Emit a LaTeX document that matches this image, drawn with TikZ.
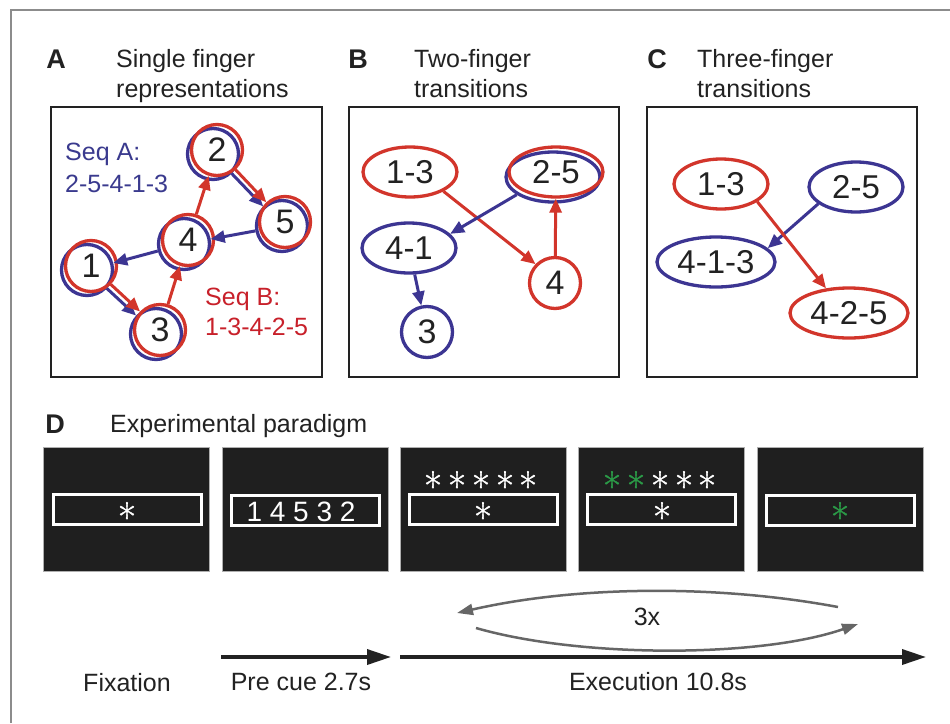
\documentclass[tikz,border=0pt]{standalone}
\usepackage{fontspec}
\setmainfont{Liberation Sans}
\newfontfamily\lmstar[FakeBold=1]{Latin Modern Roman}
\usetikzlibrary{arrows.meta,shapes.geometric}
\definecolor{rd}{HTML}{D2352B}
\definecolor{bl}{HTML}{3C3592}
\definecolor{rdtxt}{HTML}{C8202A}
\definecolor{bltxt}{HTML}{3A3A8E}
\definecolor{scr}{HTML}{1F1F1F}
\definecolor{grn}{HTML}{2B9A47}
\definecolor{txt}{HTML}{222222}
\definecolor{frm}{HTML}{8C8C8C}
\definecolor{arcg}{HTML}{666666}
\begin{document}
\begin{tikzpicture}[x=1pt,y=-1pt,
  every node/.style={text=txt},
  lbl/.style={font=\fontsize{25}{30}\selectfont, inner sep=0, anchor=base west},
  lblc/.style={font=\fontsize{25}{30}\selectfont, inner sep=0, anchor=base},
  hdr/.style={font=\bfseries\fontsize{27}{30}\selectfont, inner sep=0, anchor=base},
  panel/.style={draw=txt, line width=2pt},
  rc/.style={circle, draw=rd, line width=3.3pt, minimum size=51pt, inner sep=0, font=\fontsize{34}{34}\selectfont},
  bc/.style={circle, draw=bl, line width=3.3pt, minimum size=51pt, inner sep=0},
  re/.style={ellipse, draw=rd, line width=3.3pt, minimum width=94pt, minimum height=50pt, inner sep=0, font=\fontsize{33}{33}\selectfont},
  be/.style={ellipse, draw=bl, line width=3.3pt, minimum width=94pt, minimum height=50pt, inner sep=0, font=\fontsize{33}{33}\selectfont},
  ra/.style={draw=rd, line width=3pt, -{Triangle[length=14pt,width=12pt]}},
  ba/.style={draw=bl, line width=3pt, -{Triangle[length=14pt,width=12pt]}},
  screen/.style={fill=scr, draw=frm!70, line width=0.8pt, minimum width=166pt, minimum height=124pt, inner sep=0},
  slot/.style={draw=white, line width=3pt, minimum width=148pt, minimum height=30pt, inner sep=0},
  star/.style={font=\lmstar\fontsize{40}{40}\selectfont, inner sep=0, text=white,
    text height=30pt, text depth=-14pt},
  tl/.style={draw=txt, line width=3.5pt, -{Triangle[length=24pt,width=15pt]}},
  arcs/.style={draw=arcg, line width=2.5pt, -{Triangle[length=16pt,width=11pt]}}
]
\useasboundingbox (0,0) rectangle (950,723);
\fill[white] (0,0) rectangle (950,723);
\draw[frm, line width=1.5pt] (11,723) -- (11,10) -- (950,10);

% ---------- headers ----------
\node[hdr] (hA) at (56,68) {A};
\node[lbl] (tA1) at (116,67) {Single finger};
\node[lbl] (tA2) at (116,97) {representations};
\node[hdr] (hB) at (358,68) {B};
\node[lbl] (tB1) at (414,67) {Two-finger};
\node[lbl] (tB2) at (414,97) {transitions};
\node[hdr] (hC) at (657,68) {C};
\node[lbl] (tC1) at (697,67) {Three-finger};
\node[lbl] (tC2) at (697,97) {transitions};

% ---------- panel boxes ----------
\draw[panel] (51,107) rectangle (322,377);
\draw[panel] (349,107) rectangle (619,377);
\draw[panel] (647,107) rectangle (917,377);

% ---------- panel A ----------
\node[bc] (b2) at (213,154) {};
\node[bc] (b5) at (282,226) {};
\node[bc] (b4) at (184,244) {};
\node[bc] (b1) at (87,270) {};
\node[bc] (b3) at (156,334) {};
\node[rc] (r2) at (217,150) {2};
\node[rc] (r5) at (285,222) {5};
\node[rc] (r4) at (188,240) {4};
\node[rc] (r1) at (91,266) {1};
\node[rc] (r3) at (160,330) {3};
\draw[ba] (b2) -- (b5);
\draw[ba] (b5) -- (b4);
\draw[ba] (b4) -- (b1);
\draw[ba] (b1) -- (b3);
\draw[ra] (r1) -- (r3);
\draw[ra] (r3) -- (r4);
\draw[ra] (r4) -- (r2);
\draw[ra] (r2) -- (r5);
\node[lbl, text=bltxt] (sa1) at (65,160) {Seq A:};
\node[lbl, text=bltxt] (sa2) at (65,192) {2-5-4-1-3};
\node[lbl, text=rdtxt] (sb1) at (205,305) {Seq B:};
\node[lbl, text=rdtxt] (sb2) at (205,335) {1-3-4-2-5};

% ---------- panel B ----------
\node[re] (B13) at (410,172) {1-3};
\node[be] (B25b) at (553,177) {};
\node[re] (B25) at (556,172) {2-5};
\node[be] (B41) at (409,248) {4-1};
\node[rc] (B4) at (555,283) {4};
\node[bc, font=\fontsize{34}{34}\selectfont] (B3) at (427,332) {3};
\draw[ra] (B13.-30) -- (B4.136);
\draw[ra] (B4) -- (B25);
\draw[ba] (B25b.206) -- (B41.19);
\draw[ba] (B41) -- (B3);

% ---------- panel C ----------
\node[re] (C13) at (721,184) {1-3};
\node[be] (C25) at (856,187) {2-5};
\node[be, minimum width=118pt] (C413) at (716,262) {4-1-3};
\node[re, minimum width=118pt] (C425) at (849,313) {4-2-5};
\draw[ba] (C25.204) -- (C413.15);
\draw[ra] (C13.-26) -- (C425.133);

% ---------- panel D ----------
\node[hdr] (hD) at (55,433) {D};
\node[lbl] (tD) at (110,432) {Experimental paradigm};

\node[screen] (S1) at (126.5,509.5) {};
\node[screen] (S2) at (305,509.5) {};
\node[screen] (S3) at (483,509.5) {};
\node[screen] (S4) at (661.5,509.5) {};
\node[screen] (S5) at (840,509.5) {};

\node[slot] (L1) at (127.5,509.5) {};
\node[slot] (L2) at (305,510) {};
\node[slot] (L3) at (483.5,509.5) {};
\node[slot] (L4) at (661.5,509.5) {};
\node[slot] (L5) at (840.5,510) {};

\node[star] (a1) at (127,517) {*};
\node[text=white, font=\fontsize{28}{28}\selectfont, inner sep=0] (cue) at (301,512) {1 4 5 3 2};
\node[star] (a3) at (483,517) {*};
\node[star] (a4) at (662,517) {*};
\node[star, text=grn] (a5) at (840,517) {*};

\foreach \i/\x in {1/433,2/457,3/481,4/505,5/528}
  \node[star] (r3s\i) at (\x,486) {*};
\foreach \i/\x/\c in {1/612/grn,2/636/grn,3/660/white,4/684/white,5/707/white}
  \node[star, text=\c] (r4s\i) at (\x,486) {*};

% ---------- timeline ----------
\coordinate (p0) at (221,657);
\coordinate (p1) at (391,657);
\coordinate (e0) at (400,657);
\coordinate (e1) at (926,657);
\draw[tl] (p0) -- (p1);
\draw[tl] (e0) -- (e1);

\coordinate (u0) at (838,607);
\coordinate (u1) at (457,613);
\coordinate (w0) at (476,628);
\coordinate (w1) at (858,624);
\draw[arcs] (u0) .. controls (720,585) and (580,585) .. (u1);
\draw[arcs] (w0) .. controls (580,658) and (760,658) .. (w1);
\node[lblc] (rep) at (647,625) {3x};

\node[lblc] (fix) at (127,691) {Fixation};
\node[lblc] (pre) at (301,690) {Pre cue 2.7s};
\node[lblc] (exe) at (658,690) {Execution 10.8s};
\end{tikzpicture}
\end{document}
